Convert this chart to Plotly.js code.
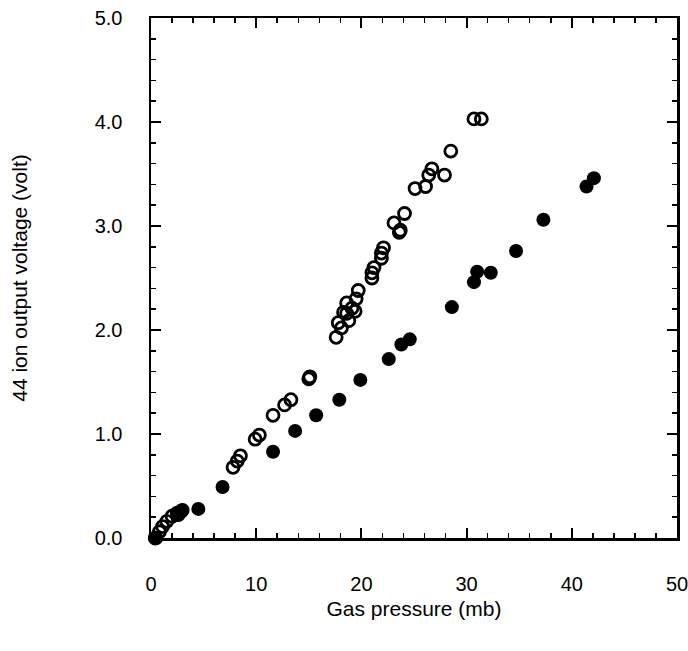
<!DOCTYPE html>
<html><head><meta charset="utf-8">
<script src="https://cdn.plot.ly/plotly-3.0.1.min.js"></script>
<style>body{margin:0;background:#fff}#c{width:688px;height:651px}</style>
</head><body><div id="c"></div>
<script>
// Open circles series
const openX = [0.4,0.8,1.1,1.5,2.0,2.5,2.9,7.8,8.2,8.5,9.9,10.3,11.6,12.7,13.3,15.0,15.1,
  17.6,17.8,18.1,18.3,18.6,18.6,18.8,19.1,19.4,19.5,19.7,21.0,21.0,21.2,21.9,21.9,22.1,
  23.1,23.6,23.7,24.1,25.1,26.1,26.4,26.7,27.9,28.5,30.7,31.4];
const openY = [0.0,0.06,0.11,0.16,0.21,0.24,0.26,0.68,0.74,0.79,0.95,0.99,1.18,1.28,1.33,1.53,1.55,
  1.93,2.07,2.02,2.17,2.16,2.26,2.09,2.21,2.18,2.30,2.38,2.50,2.55,2.60,2.69,2.74,2.79,
  3.03,2.94,2.96,3.12,3.36,3.38,3.49,3.55,3.49,3.72,4.03,4.03];
// Filled circles series
const fillX = [0.5,2.6,3.0,4.5,6.8,11.6,13.7,15.7,17.9,19.9,22.6,23.8,24.6,28.6,30.7,31.0,32.3,34.7,37.3,41.4,42.1];
const fillY = [0.0,0.22,0.27,0.28,0.49,0.83,1.03,1.18,1.33,1.52,1.72,1.86,1.91,2.22,2.46,2.56,2.55,2.76,3.06,3.38,3.46];
const xTitle = 'Gas pressure (mb)';
const yTitle = '44 ion output voltage (volt)';

const data = [
  {x: fillX, y: fillY, type:'scatter', mode:'markers', cliponaxis:false,
   marker:{symbol:'circle', size:14, color:'#000', line:{width:0}}},
  {x: openX, y: openY, type:'scatter', mode:'markers', cliponaxis:false,
   marker:{symbol:'circle-open', size:12, color:'#000', line:{width:2.8, color:'#000'}}}
];
const fam = '"Liberation Sans", Arial, sans-serif';
const tickFont = {family:fam, size:20, color:'#000'};
const titleFont = {family:fam, size:21, color:'#000'};
const axisCommon = {
  showgrid:false, zeroline:false, showline:true, linecolor:'#000', linewidth:2.5,
  mirror:'allticks', ticks:'inside', ticklen:10, tickwidth:2, tickcolor:'#000',
  tickfont:tickFont, ticklabeloverflow:'allow'
};
const layout = {
  width:688, height:651, showlegend:false,
  paper_bgcolor:'#fff', plot_bgcolor:'#fff',
  margin:{l:151, r:11, t:18, b:113},
  font:tickFont,
  xaxis: Object.assign({}, axisCommon, {
    range:[0,50], dtick:10, tick0:0, ticklabelstandoff:26,
    minor:{dtick:2, ticks:'inside', ticklen:5, tickwidth:1.5, tickcolor:'#000'},
    title:{text:xTitle, font:titleFont, standoff:8}
  }),
  yaxis: Object.assign({}, axisCommon, {
    range:[0,5], dtick:1, tick0:0, tickformat:'.1f', ticklabelstandoff:22,
    minor:{dtick:0.2, ticks:'inside', ticklen:5, tickwidth:1.5, tickcolor:'#000'},
    title:{text:yTitle, font:titleFont, standoff:62}
  })
};
Plotly.newPlot('c', data, layout, {displayModeBar:false, staticPlot:true});
</script></body></html>
